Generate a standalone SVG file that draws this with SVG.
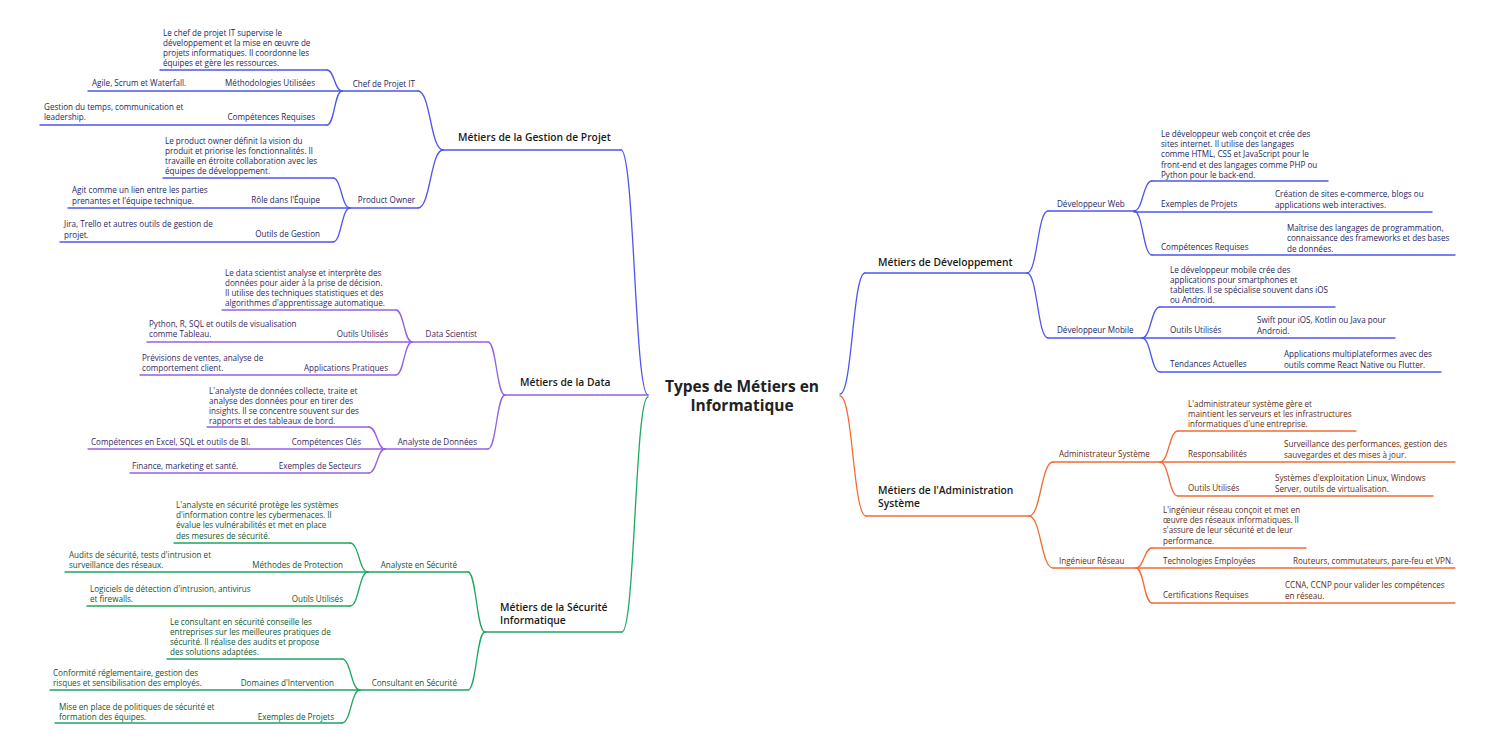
<svg xmlns="http://www.w3.org/2000/svg" width="1511" height="751" viewBox="0 0 1511 751">
<style>
.l{fill:none;stroke-width:1.3;stroke-linecap:round}
.b{stroke:#4f55ee}.p{stroke:#9461e6}.g{stroke:#1ea75f}.o{stroke:#f46b32}
text{font-family:"Open Sans","Noto Sans","Liberation Sans",sans-serif;font-size:8.1px}
.tb{fill:#26265e}.tp{fill:#3a275e}.tg{fill:#0d5630}.to{fill:#652a12}
.e{text-anchor:end}
.m{font-size:10.3px;font-weight:600;fill:#1a1a1a}
.r{font-size:15.5px;font-weight:700;fill:#222;text-anchor:middle}
</style>
<rect width="1511" height="751" fill="#fff"/>
<g id="connectors">
<path class="l b" d="M648 395C634.5 395 634.5 150 621 150"/>
<path class="l b" d="M443 150C430.5 150 430.5 91 418 91"/>
<path class="l b" d="M443 150C430.5 150 430.5 208 418 208"/>
<path class="l b" d="M342 91C334.5 91 334.5 70 327 70"/>
<path class="l b" d="M342 91C334.5 91 334.5 125 327 125"/>
<path class="l b" d="M350 208C341.5 208 341.5 178 333 178"/>
<path class="l b" d="M350 208C341.5 208 341.5 242 333 242"/>
<path class="l p" d="M505 395C496.5 395 496.5 342 488 342"/>
<path class="l p" d="M505 395C496.5 395 496.5 449 488 449"/>
<path class="l p" d="M412 342C404 342 404 310 396 310"/>
<path class="l p" d="M412 342C404 342 404 375 396 375"/>
<path class="l p" d="M385 449C377 449 377 427 369 427"/>
<path class="l p" d="M385 449C377 449 377 473 369 473"/>
<path class="l g" d="M648 397C635 397 635 632 622 632"/>
<path class="l g" d="M485 632C476.5 632 476.5 572 468 572"/>
<path class="l g" d="M485 632C476.5 632 476.5 690 468 690"/>
<path class="l g" d="M368 572C359 572 359 543 350 543"/>
<path class="l g" d="M368 572C359 572 359 606 350 606"/>
<path class="l g" d="M360 690C351 690 351 659 342 659"/>
<path class="l g" d="M360 690C351 690 351 723 342 723"/>
<path class="l b" d="M840 394C852.5 394 852.5 273 865 273"/>
<path class="l b" d="M1027 273C1037.5 273 1037.5 211 1048 211"/>
<path class="l b" d="M1027 273C1037.5 273 1037.5 338 1048 338"/>
<path class="l b" d="M1134 211C1143 211 1143 181 1152 181"/>
<path class="l b" d="M1134 211C1143 211 1143 255 1152 255"/>
<path class="l b" d="M1142 338C1151 338 1151 307 1160 307"/>
<path class="l b" d="M1142 338C1151 338 1151 372 1160 372"/>
<path class="l o" d="M840 396C853 396 853 516 866 516"/>
<path class="l o" d="M1029 516C1041 516 1041 462 1053 462"/>
<path class="l o" d="M1029 516C1041 516 1041 568 1053 568"/>
<path class="l o" d="M1160 462C1169 462 1169 431 1178 431"/>
<path class="l o" d="M1160 462C1169 462 1169 496 1178 496"/>
<path class="l o" d="M1136 568C1144 568 1144 548 1152 548"/>
<path class="l o" d="M1136 568C1144 568 1144 603 1152 603"/>
</g>
<g id="root"><text class="r" x="742" y="392">Types de Métiers en</text><text class="r" x="742" y="411">Informatique</text></g>

<g id="gestion"><path class="l b" d="M443 150H621"/><text class="m" x="458" y="141">Métiers de la Gestion de Projet</text></g>
<g id="chef"><path class="l b" d="M342 91H418"/><text class="tb e" x="415" y="87">Chef de Projet IT</text></g>
<g id="chef-desc"><path class="l b" d="M160 70H327"/><text class="tb" x="163" y="36">Le chef de projet IT supervise le</text><text class="tb" x="163" y="46">développement et la mise en œuvre de</text><text class="tb" x="163" y="56">projets informatiques. Il coordonne les</text><text class="tb" x="163" y="66">équipes et gère les ressources.</text></g>
<g id="chef-meth"><path class="l b" d="M88 91H342"/><text class="tb e" x="315" y="86">Méthodologies Utilisées</text><text class="tb" x="92" y="86">Agile, Scrum et Waterfall.</text></g>
<g id="chef-comp"><path class="l b" d="M40 125H327"/><text class="tb e" x="315" y="120">Compétences Requises</text><text class="tb" x="44" y="110">Gestion du temps, communication et</text><text class="tb" x="44" y="120">leadership.</text></g>
<g id="po"><path class="l b" d="M350 208H418"/><text class="tb e" x="415" y="203">Product Owner</text></g>
<g id="po-desc"><path class="l b" d="M163 178H333"/><text class="tb" x="165" y="144">Le product owner définit la vision du</text><text class="tb" x="165" y="154">produit et priorise les fonctionnalités. Il</text><text class="tb" x="165" y="164">travaille en étroite collaboration avec les</text><text class="tb" x="165" y="174">équipes de développement.</text></g>
<g id="po-role"><path class="l b" d="M68 208H350"/><text class="tb e" x="320" y="203">Rôle dans l'Équipe</text><text class="tb" x="72" y="193">Agit comme un lien entre les parties</text><text class="tb" x="72" y="204">prenantes et l'équipe technique.</text></g>
<g id="po-outils"><path class="l b" d="M60 242H333"/><text class="tb e" x="320" y="237">Outils de Gestion</text><text class="tb" x="64" y="227">Jira, Trello et autres outils de gestion de</text><text class="tb" x="64" y="238">projet.</text></g>

<g id="data"><path class="l p" d="M505 395H648"/><text class="m" x="520" y="386">Métiers de la Data</text></g>
<g id="ds"><path class="l p" d="M412 342H488"/><text class="tp e" x="477" y="337">Data Scientist</text></g>
<g id="ds-desc"><path class="l p" d="M222 310H396"/><text class="tp" x="225" y="276">Le data scientist analyse et interprète des</text><text class="tp" x="225" y="286">données pour aider à la prise de décision.</text><text class="tp" x="225" y="296">Il utilise des techniques statistiques et des</text><text class="tp" x="225" y="306">algorithmes d'apprentissage automatique.</text></g>
<g id="ds-outils"><path class="l p" d="M147 342H412"/><text class="tp e" x="388" y="337">Outils Utilisés</text><text class="tp" x="149" y="327">Python, R, SQL et outils de visualisation</text><text class="tp" x="149" y="337">comme Tableau.</text></g>
<g id="ds-appl"><path class="l p" d="M140 375H396"/><text class="tp e" x="388" y="371">Applications Pratiques</text><text class="tp" x="142" y="361">Prévisions de ventes, analyse de</text><text class="tp" x="142" y="371">comportement client.</text></g>
<g id="ad"><path class="l p" d="M385 449H488"/><text class="tp e" x="477" y="445">Analyste de Données</text></g>
<g id="ad-desc"><path class="l p" d="M207 427H369"/><text class="tp" x="209" y="394">L'analyste de données collecte, traite et</text><text class="tp" x="209" y="404">analyse des données pour en tirer des</text><text class="tp" x="209" y="414">insights. Il se concentre souvent sur des</text><text class="tp" x="209" y="424">rapports et des tableaux de bord.</text></g>
<g id="ad-comp"><path class="l p" d="M88 449H385"/><text class="tp e" x="361" y="445">Compétences Clés</text><text class="tp" x="91" y="445">Compétences en Excel, SQL et outils de BI.</text></g>
<g id="ad-sect"><path class="l p" d="M130 473H369"/><text class="tp e" x="361" y="469">Exemples de Secteurs</text><text class="tp" x="132" y="469">Finance, marketing et santé.</text></g>

<g id="secu"><path class="l g" d="M485 632H622"/><text class="m" x="500" y="611">Métiers de la Sécurité</text><text class="m" x="500" y="624">Informatique</text></g>
<g id="as"><path class="l g" d="M368 572H468"/><text class="tg e" x="457" y="568">Analyste en Sécurité</text></g>
<g id="as-desc"><path class="l g" d="M174 543H350"/><text class="tg" x="176" y="508">L'analyste en sécurité protège les systèmes</text><text class="tg" x="176" y="518">d'information contre les cybermenaces. Il</text><text class="tg" x="176" y="528">évalue les vulnérabilités et met en place</text><text class="tg" x="176" y="539">des mesures de sécurité.</text></g>
<g id="as-meth"><path class="l g" d="M65 572H368"/><text class="tg e" x="343" y="568">Méthodes de Protection</text><text class="tg" x="69" y="558">Audits de sécurité, tests d'intrusion et</text><text class="tg" x="69" y="568">surveillance des réseaux.</text></g>
<g id="as-outils"><path class="l g" d="M87 606H350"/><text class="tg e" x="343" y="602">Outils Utilisés</text><text class="tg" x="90" y="592">Logiciels de détection d'intrusion, antivirus</text><text class="tg" x="90" y="602">et firewalls.</text></g>
<g id="cs"><path class="l g" d="M360 690H468"/><text class="tg e" x="457" y="686">Consultant en Sécurité</text></g>
<g id="cs-desc"><path class="l g" d="M167 659H342"/><text class="tg" x="170" y="625">Le consultant en sécurité conseille les</text><text class="tg" x="170" y="635">entreprises sur les meilleures pratiques de</text><text class="tg" x="170" y="645">sécurité. Il réalise des audits et propose</text><text class="tg" x="170" y="655">des solutions adaptées.</text></g>
<g id="cs-dom"><path class="l g" d="M50 690H360"/><text class="tg e" x="334" y="686">Domaines d'Intervention</text><text class="tg" x="53" y="676">Conformité réglementaire, gestion des</text><text class="tg" x="53" y="686">risques et sensibilisation des employés.</text></g>
<g id="cs-ex"><path class="l g" d="M55 723H342"/><text class="tg e" x="334" y="720">Exemples de Projets</text><text class="tg" x="59" y="710">Mise en place de politiques de sécurité et</text><text class="tg" x="59" y="720">formation des équipes.</text></g>

<g id="dev"><path class="l b" d="M865 273H1027"/><text class="m" x="878" y="266">Métiers de Développement</text></g>
<g id="web"><path class="l b" d="M1048 211H1134"/><text class="tb" x="1057" y="207">Développeur Web</text></g>
<g id="web-desc"><path class="l b" d="M1152 181H1328"/><text class="tb" x="1161" y="137">Le développeur web conçoit et crée des</text><text class="tb" x="1161" y="147">sites internet. Il utilise des langages</text><text class="tb" x="1161" y="157">comme HTML, CSS et JavaScript pour le</text><text class="tb" x="1161" y="168">front-end et des langages comme PHP ou</text><text class="tb" x="1161" y="178">Python pour le back-end.</text></g>
<g id="web-ex"><path class="l b" d="M1134 212H1432"/><text class="tb" x="1161" y="207">Exemples de Projets</text><text class="tb" x="1275" y="197">Création de sites e-commerce, blogs ou</text><text class="tb" x="1275" y="208">applications web interactives.</text></g>
<g id="web-comp"><path class="l b" d="M1152 255H1455"/><text class="tb" x="1161" y="250">Compétences Requises</text><text class="tb" x="1287" y="231">Maîtrise des langages de programmation,</text><text class="tb" x="1287" y="241">connaissance des frameworks et des bases</text><text class="tb" x="1287" y="252">de données.</text></g>
<g id="mob"><path class="l b" d="M1048 338H1142"/><text class="tb" x="1057" y="333">Développeur Mobile</text></g>
<g id="mob-desc"><path class="l b" d="M1160 307H1335"/><text class="tb" x="1170" y="273">Le développeur mobile crée des</text><text class="tb" x="1170" y="283">applications pour smartphones et</text><text class="tb" x="1170" y="293">tablettes. Il se spécialise souvent dans iOS</text><text class="tb" x="1170" y="303">ou Android.</text></g>
<g id="mob-outils"><path class="l b" d="M1142 338H1395"/><text class="tb" x="1170" y="333">Outils Utilisés</text><text class="tb" x="1257" y="323">Swift pour iOS, Kotlin ou Java pour</text><text class="tb" x="1257" y="334">Android.</text></g>
<g id="mob-tend"><path class="l b" d="M1160 372H1441"/><text class="tb" x="1170" y="367">Tendances Actuelles</text><text class="tb" x="1284" y="357">Applications multiplateformes avec des</text><text class="tb" x="1284" y="368">outils comme React Native ou Flutter.</text></g>

<g id="admin"><path class="l o" d="M866 516H1029"/><text class="m" x="878" y="494">Métiers de l'Administration</text><text class="m" x="878" y="507">Système</text></g>
<g id="asys"><path class="l o" d="M1053 462H1160"/><text class="to" x="1059" y="457">Administrateur Système</text></g>
<g id="asys-desc"><path class="l o" d="M1178 431H1356"/><text class="to" x="1188" y="407">L'administrateur système gère et</text><text class="to" x="1188" y="417">maintient les serveurs et les infrastructures</text><text class="to" x="1188" y="427">informatiques d'une entreprise.</text></g>
<g id="asys-resp"><path class="l o" d="M1160 462H1455"/><text class="to" x="1188" y="457">Responsabilités</text><text class="to" x="1284" y="447">Surveillance des performances, gestion des</text><text class="to" x="1284" y="458">sauvegardes et des mises à jour.</text></g>
<g id="asys-outils"><path class="l o" d="M1178 496H1433"/><text class="to" x="1188" y="491">Outils Utilisés</text><text class="to" x="1275" y="481">Systèmes d'exploitation Linux, Windows</text><text class="to" x="1275" y="492">Server, outils de virtualisation.</text></g>
<g id="res"><path class="l o" d="M1053 568H1136"/><text class="to" x="1059" y="564">Ingénieur Réseau</text></g>
<g id="res-desc"><path class="l o" d="M1152 548H1306"/><text class="to" x="1163" y="513">L'ingénieur réseau conçoit et met en</text><text class="to" x="1163" y="523">œuvre des réseaux informatiques. Il</text><text class="to" x="1163" y="533">s'assure de leur sécurité et de leur</text><text class="to" x="1163" y="544">performance.</text></g>
<g id="res-tech"><path class="l o" d="M1136 568H1455"/><text class="to" x="1163" y="564">Technologies Employées</text><text class="to" x="1293" y="564">Routeurs, commutateurs, pare-feu et VPN.</text></g>
<g id="res-cert"><path class="l o" d="M1152 603H1455"/><text class="to" x="1163" y="598">Certifications Requises</text><text class="to" x="1285" y="588">CCNA, CCNP pour valider les compétences</text><text class="to" x="1285" y="599">en réseau.</text></g>
</svg>
